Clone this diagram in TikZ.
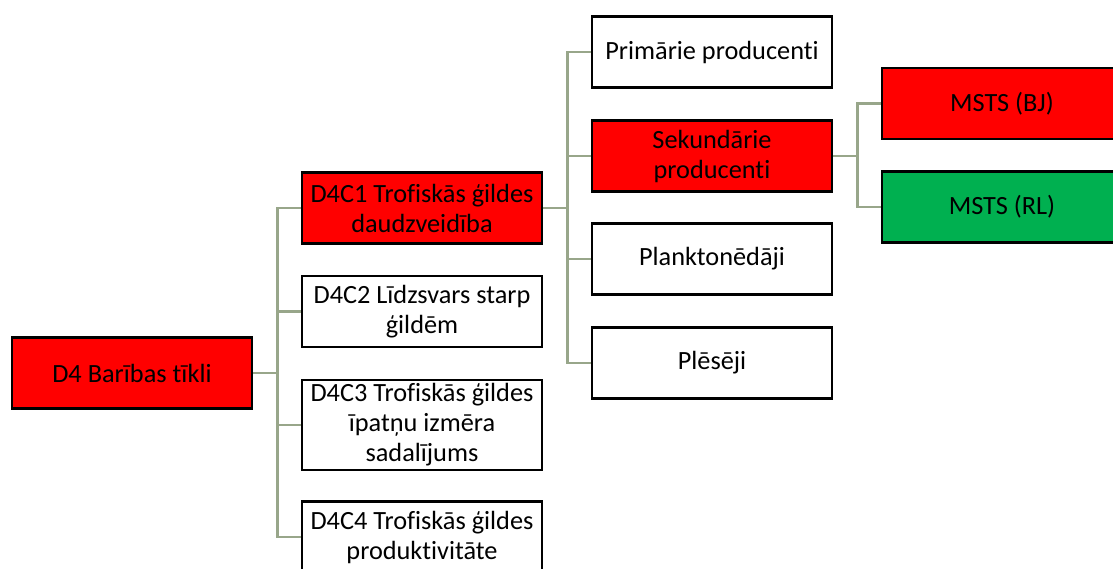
\documentclass[tikz,border=0pt]{standalone}
\usepackage{fontspec}
\setmainfont{Carlito}[Ligatures=NoCommon]
\begin{document}
\begin{tikzpicture}[x=1pt,y=-1pt,
  box/.style={draw=black, line width=2.6pt, fill=white, minimum width=240pt,
    minimum height=71pt, inner sep=1pt, align=center,
    font=\fontsize{26.3}{30}\selectfont},
  redbox/.style={box, fill=red},
  greenbox/.style={box, fill=grnfill},
  conn/.style={draw=linkc, line width=2.4pt}]
\definecolor{grnfill}{RGB}{0,176,80}
\definecolor{linkc}{RGB}{152,166,138}
\useasboundingbox (0,0) rectangle (1113,569);
\clip (0,0) rectangle (1113,569);

% level 1
\node[redbox] (d4) at (132,373) {D4 Barības tīkli};
% level 2
\node[redbox] (c1) at (422,208) {D4C1 Trofiskās ģildes\\daudzveidība};
\node[box] (c2) at (422,311.5) {D4C2 Līdzsvars starp\\ģildēm};
\node[box, minimum height=90pt] (c3) at (422,425) {D4C3 Trofiskās ģildes\\īpatņu izmēra\\sadalījums};
\node[box] (c4) at (422,537) {D4C4 Trofiskās ģildes\\produktivitāte};
% level 3
\node[box] (p1) at (712,52) {Primārie producenti};
\node[redbox] (p2) at (712,156) {Sekundārie\\producenti};
\node[box] (p3) at (712,259) {Planktonēdāji};
\node[box] (p4) at (712,363) {Plēsēji};
% level 4
\node[redbox] (m1) at (1002,103.5) {MSTS (BJ)};
\node[greenbox] (m2) at (1002,207) {MSTS (RL)};

% connectors: elbow from parent to each child
\foreach \c in {c1,c2,c3,c4}
  \draw[conn] (d4.east) -- ++(24,0) |- (\c.west);
\foreach \c in {p1,p2,p3,p4}
  \draw[conn] (c1.east) -- ++(24,0) |- (\c.west);
\foreach \c in {m1,m2}
  \draw[conn] (p2.east) -- ++(24,0) |- (\c.west);
\end{tikzpicture}
\end{document}
